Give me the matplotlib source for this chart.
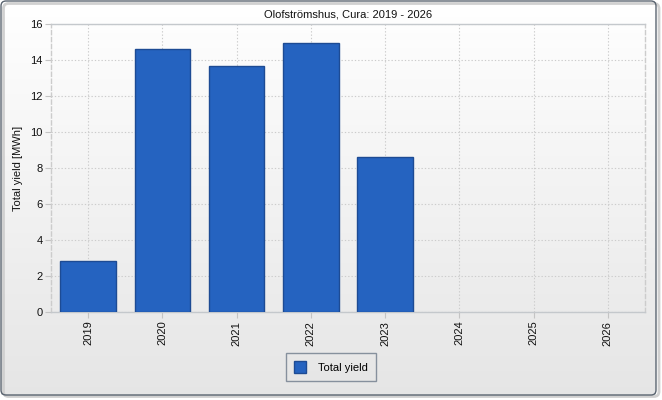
import numpy as np
import matplotlib
matplotlib.use("Agg")
import matplotlib.pyplot as plt
from matplotlib.patches import FancyBboxPatch, Rectangle

categories = ["2019", "2020", "2021", "2022", "2023", "2024", "2025", "2026"]
values = [2.83, 14.61, 13.67, 14.94, 8.61, 0, 0, 0]
yticks = [0, 2, 4, 6, 8, 10, 12, 14, 16]
title = "Olofströmshus, Cura: 2019 - 2026"
ylabel = "Total yield [MWh]"
series_name = "Total yield"

W, H = 662, 400
plt.rcParams['font.family'] = ['Liberation Sans', 'DejaVu Sans']
fig = plt.figure(figsize=(W / 100, H / 100), dpi=100)
fig.patch.set_facecolor("white")

# background gradient + frame
bg = fig.add_axes([0, 0, 1, 1], zorder=-10)
bg.set_xlim(0, W)
bg.set_ylim(H, 0)
bg.axis("off")
grad = np.linspace(1.0, 0.90, 256).reshape(-1, 1)
bg.imshow(np.dstack([grad, grad, grad]), extent=[1, 656, 395, 1], aspect="auto", zorder=0)
shadow = FancyBboxPatch((3.5, 3.5), 655.5, 393, boxstyle="round,pad=0,rounding_size=5",
                        facecolor="none", edgecolor="#d0d0d0", linewidth=2.0, zorder=1)
bg.add_patch(shadow)
frame = FancyBboxPatch((1, 1), 655, 394, boxstyle="round,pad=0,rounding_size=5",
                       facecolor="none", edgecolor="#5a6470", linewidth=1.0, zorder=2)
bg.add_patch(frame)

left, right, top, bottom = 51, 645, 24.3, 312.3
ax = fig.add_axes([left / W, 1 - bottom / H, (right - left) / W, (bottom - top) / H])
ax.set_facecolor("none")
x = np.arange(len(categories))
lws = [1.0 if v > 0 else 0.0 for v in values]
ax.bar(x, values, width=0.75, color="#2563c0", edgecolor="#1d4b94", linewidth=lws, zorder=3,
       label=series_name)
ax.set_xlim(-0.5, len(categories) - 0.5)
ax.set_ylim(0, 16)
ax.set_yticks(yticks)
ax.set_yticklabels([str(v) for v in yticks], fontsize=8, color="#111111")
ax.set_xticks(x)
ax.set_xticklabels(categories, rotation=90, fontsize=8, color="#111111")
ax.grid(True, color="#cccccc", linestyle=(0, (1.2, 1.8)), linewidth=0.8, zorder=0)
ax.tick_params(axis="both", length=4, width=0.8, color="#c4c4c4", pad=2)
for t in ax.xaxis.get_ticklines() + ax.yaxis.get_ticklines():
    t.set_linestyle((0, (1, 1)))
for s in ["top", "bottom"]:
    ax.spines[s].set_color("#c4c8cc")
    ax.spines[s].set_linewidth(1.0)
for s in ["left", "right"]:
    ax.spines[s].set_color("#cccccc")
    ax.spines[s].set_linewidth(1.0)
    ax.spines[s].set_linestyle((0, (3, 2)))
ax.set_ylabel(ylabel, fontsize=8, color="#111111")
ax.yaxis.set_label_coords(-28 / (right - left), 0.5)
ax.set_title(title, fontsize=8, color="#111111", pad=5)

handle = Rectangle((0, 0), 1, 1, facecolor="#2563c0", edgecolor="#1d4b94", linewidth=1.0)
leg = fig.legend([handle], [series_name], loc="center",
                 bbox_to_anchor=(331 / W, 1 - 367 / H), fontsize=8,
                 frameon=True, fancybox=False, handlelength=1.1, handleheight=1.3,
                 borderpad=0.75, handletextpad=1.1, borderaxespad=0)
leg.get_frame().set_edgecolor("#6e7b8b")
leg.get_frame().set_linewidth(1.0)
leg.get_frame().set_facecolor("none")

fig.savefig("out.png", dpi=100)
